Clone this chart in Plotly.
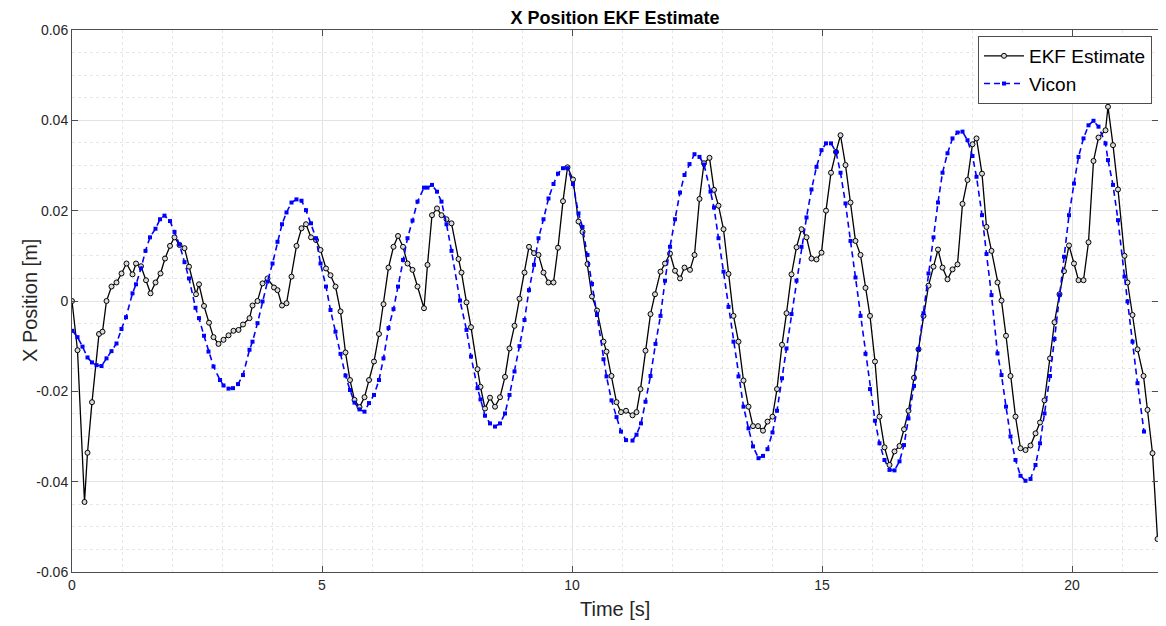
import plotly.graph_objects as go

# EKF estimate samples (time [s], x position [m])
ekf_t = [0.00, 0.11, 0.25, 0.31, 0.40, 0.54, 0.61, 0.69, 0.79, 0.89, 0.99, 1.09, 1.21, 1.28, 1.38,
         1.48, 1.57, 1.67, 1.77, 1.86, 1.96, 2.05, 2.15, 2.25, 2.34, 2.48, 2.54, 2.64, 2.74, 2.83,
         2.93, 3.03, 3.13, 3.23, 3.33, 3.42, 3.55, 3.61, 3.71, 3.81, 3.91, 4.04, 4.11, 4.20, 4.29,
         4.39, 4.49, 4.59, 4.68, 4.78, 4.88, 4.97, 5.08, 5.17, 5.27, 5.37, 5.47, 5.56, 5.65, 5.75,
         5.85, 5.94, 6.04, 6.14, 6.23, 6.33, 6.43, 6.52, 6.62, 6.71, 6.81, 6.91, 7.04, 7.11, 7.20,
         7.30, 7.39, 7.49, 7.59, 7.73, 7.79, 7.89, 7.98, 8.11, 8.17, 8.26, 8.36, 8.46, 8.56, 8.66,
         8.75, 8.85, 8.95, 9.05, 9.14, 9.24, 9.33, 9.43, 9.53, 9.63, 9.72, 9.82, 9.91, 10.02, 10.13,
         10.21, 10.31, 10.40, 10.50, 10.63, 10.69, 10.79, 10.89, 10.98, 11.08, 11.21, 11.29, 11.37,
         11.47, 11.57, 11.66, 11.77, 11.86, 11.96, 12.06, 12.16, 12.25, 12.36, 12.45, 12.55, 12.64,
         12.75, 12.84, 12.93, 13.03, 13.13, 13.23, 13.33, 13.43, 13.53, 13.62, 13.72, 13.82, 13.91,
         14.01, 14.10, 14.20, 14.29, 14.39, 14.49, 14.59, 14.69, 14.79, 14.89, 14.99, 15.08, 15.18,
         15.28, 15.37, 15.47, 15.57, 15.67, 15.77, 15.87, 15.96, 16.06, 16.15, 16.25, 16.35, 16.45,
         16.55, 16.64, 16.73, 16.84, 16.93, 17.03, 17.13, 17.23, 17.32, 17.41, 17.51, 17.61, 17.71,
         17.81, 17.91, 18.01, 18.09, 18.20, 18.29, 18.39, 18.51, 18.59, 18.68, 18.77, 18.87, 18.97,
         19.07, 19.17, 19.27, 19.36, 19.45, 19.56, 19.65, 19.75, 19.84, 19.94, 20.04, 20.13, 20.23,
         20.33, 20.43, 20.53, 20.67, 20.72, 20.82, 20.92, 21.05, 21.11, 21.21, 21.31, 21.43, 21.51,
         21.61, 21.71]
ekf_x = [0.0, -0.0109, -0.0445, -0.0336, -0.0224, -0.0073, -0.0068, 0.0, 0.0032, 0.0041, 0.0061,
         0.0083, 0.0059, 0.0083, 0.0077, 0.0046, 0.0017, 0.0041, 0.0061, 0.0094, 0.0122, 0.0141,
         0.0124, 0.0117, 0.0076, 0.0015, 0.0037, -0.0011, -0.0048, -0.0080, -0.0095, -0.0086,
         -0.0076, -0.0066, -0.0064, -0.0052, -0.0038, -0.0010, 0.0, 0.0039, 0.0050, 0.0030, 0.0024,
         -0.0010, -0.0005, 0.0054, 0.0122, 0.0161, 0.0170, 0.0141, 0.0135, 0.0113, 0.0072, 0.0057,
         0.0032, -0.0023, -0.0114, -0.0175, -0.0219, -0.0235, -0.0213, -0.0175, -0.0134, -0.0073,
         -0.0007, 0.0074, 0.0120, 0.0144, 0.0120, 0.0083, 0.0069, 0.0032, -0.0016, 0.0080, 0.0190,
         0.0205, 0.0190, 0.0181, 0.0172, 0.0093, 0.0063, -0.0003, -0.0058, -0.0151, -0.0190,
         -0.0238, -0.0214, -0.0234, -0.0213, -0.0168, -0.0105, -0.0055, 0.0005, 0.0063, 0.0120,
         0.0106, 0.0102, 0.0063, 0.0041, 0.0041, 0.0118, 0.0221, 0.0296, 0.0269, 0.0176, 0.0153,
         0.0082, 0.0010, -0.0021, -0.0090, -0.0112, -0.0166, -0.0224, -0.0246, -0.0243, -0.0253,
         -0.0246, -0.0195, -0.0110, -0.0029, 0.0015, 0.0065, 0.0083, 0.0105, 0.0067, 0.0050, 0.0074,
         0.0069, 0.0102, 0.0226, 0.0305, 0.0317, 0.0246, 0.0211, 0.0159, 0.0060, -0.0033, -0.0090,
         -0.0176, -0.0234, -0.0277, -0.0277, -0.0287, -0.0267, -0.0256, -0.0195, -0.0097, -0.0027,
         0.0059, 0.0119, 0.0159, 0.0141, 0.0094, 0.0092, 0.0107, 0.0200, 0.0284, 0.0330, 0.0367,
         0.0301, 0.0218, 0.0133, 0.0102, 0.0029, -0.0033, -0.0134, -0.0256, -0.0324, -0.0363,
         -0.0333, -0.0321, -0.0284, -0.0243, -0.0170, -0.0107, -0.0033, 0.0034, 0.0076, 0.0114,
         0.0074, 0.0048, 0.0070, 0.0081, 0.0215, 0.0268, 0.0347, 0.0360, 0.0282, 0.0164, 0.0111,
         0.0041, 0.0001, -0.0077, -0.0166, -0.0256, -0.0326, -0.0330, -0.0320, -0.0293, -0.0269,
         -0.0220, -0.0127, -0.0047, 0.0015, 0.0066, 0.0123, 0.0083, 0.0046, 0.0046, 0.0130, 0.0310,
         0.0362, 0.0378, 0.0430, 0.0345, 0.0247, 0.0100, 0.0041, -0.0031, -0.0107, -0.0166,
         -0.0241, -0.0337, -0.0527]

# Vicon ground truth samples
vicon_t = [0.01, 0.11, 0.21, 0.31, 0.40, 0.49, 0.59, 0.69, 0.79, 0.89, 0.99, 1.08, 1.21, 1.28, 1.38,
           1.47, 1.56, 1.67, 1.76, 1.85, 1.96, 2.05, 2.15, 2.25, 2.34, 2.47, 2.54, 2.64, 2.73, 2.83,
           2.96, 3.03, 3.13, 3.22, 3.32, 3.42, 3.55, 3.61, 3.71, 3.81, 3.91, 4.01, 4.11, 4.20, 4.29,
           4.39, 4.49, 4.59, 4.68, 4.78, 4.88, 4.97, 5.08, 5.17, 5.27, 5.37, 5.47, 5.56, 5.65, 5.75,
           5.85, 5.94, 6.04, 6.14, 6.23, 6.33, 6.43, 6.52, 6.62, 6.71, 6.81, 6.91, 7.04, 7.11, 7.20,
           7.30, 7.39, 7.49, 7.59, 7.76, 7.89, 7.98, 8.11, 8.17, 8.26, 8.36, 8.46, 8.56, 8.66, 8.75,
           8.85, 8.95, 9.05, 9.14, 9.24, 9.33, 9.43, 9.53, 9.63, 9.72, 9.82, 9.91, 10.02, 10.13,
           10.21, 10.31, 10.40, 10.50, 10.63, 10.69, 10.79, 10.89, 10.98, 11.08, 11.21, 11.29, 11.38,
           11.47, 11.57, 11.67, 11.77, 11.86, 11.96, 12.06, 12.16, 12.25, 12.35, 12.45, 12.55, 12.64,
           12.77, 12.84, 12.93, 13.03, 13.13, 13.23, 13.33, 13.43, 13.53, 13.62, 13.73, 13.82, 13.91,
           14.01, 14.10, 14.20, 14.29, 14.39, 14.49, 14.59, 14.69, 14.79, 14.89, 14.99, 15.08, 15.18,
           15.28, 15.37, 15.47, 15.57, 15.67, 15.77, 15.87, 15.96, 16.06, 16.15, 16.25, 16.35, 16.45,
           16.55, 16.64, 16.73, 16.84, 16.93, 17.03, 17.13, 17.23, 17.32, 17.41, 17.51, 17.61, 17.71,
           17.81, 17.91, 18.01, 18.09, 18.20, 18.29, 18.39, 18.51, 18.59, 18.68, 18.77, 18.87, 18.97,
           19.07, 19.17, 19.27, 19.36, 19.45, 19.56, 19.65, 19.75, 19.84, 19.94, 20.04, 20.13, 20.23,
           20.33, 20.43, 20.53, 20.67, 20.72, 20.82, 20.92, 21.05, 21.11, 21.21, 21.31, 21.44]
vicon_x = [-0.0066, -0.0080, -0.0101, -0.0125, -0.0136, -0.0142, -0.0144, -0.0127, -0.0111, -0.0094,
           -0.0062, -0.0036, 0.0017, 0.0037, 0.0072, 0.0111, 0.0141, 0.0160, 0.0181, 0.0189, 0.0177,
           0.0153, 0.0125, 0.0086, 0.0050, -0.0015, -0.0038, -0.0077, -0.0112, -0.0145, -0.0175,
           -0.0187, -0.0194, -0.0193, -0.0184, -0.0164, -0.0108, -0.0090, -0.0049, -0.0001, 0.0043,
           0.0083, 0.0131, 0.0170, 0.0196, 0.0218, 0.0225, 0.0222, 0.0201, 0.0172, 0.0139, 0.0083,
           0.0032, -0.0020, -0.0068, -0.0117, -0.0165, -0.0197, -0.0225, -0.0240, -0.0245, -0.0226,
           -0.0208, -0.0175, -0.0127, -0.0060, -0.0018, 0.0032, 0.0091, 0.0139, 0.0178, 0.0220,
           0.0251, 0.0251, 0.0257, 0.0242, 0.0220, 0.0170, 0.0111, 0.0001, -0.0064, -0.0123, -0.0193,
           -0.0218, -0.0254, -0.0271, -0.0278, -0.0271, -0.0249, -0.0208, -0.0156, -0.0100, -0.0042,
           0.0024, 0.0080, 0.0139, 0.0181, 0.0227, 0.0259, 0.0282, 0.0294, 0.0294, 0.0259, 0.0194,
           0.0164, 0.0102, 0.0038, -0.0031, -0.0129, -0.0167, -0.0220, -0.0257, -0.0289, -0.0308,
           -0.0309, -0.0296, -0.0271, -0.0223, -0.0166, -0.0095, -0.0033, 0.0045, 0.0120, 0.0181,
           0.0240, 0.0279, 0.0303, 0.0325, 0.0319, 0.0302, 0.0242, 0.0207, 0.0139, 0.0065, -0.0013,
           -0.0090, -0.0167, -0.0234, -0.0282, -0.0322, -0.0348, -0.0343, -0.0328, -0.0291, -0.0243,
           -0.0171, -0.0105, -0.0029, 0.0045, 0.0120, 0.0185, 0.0247, 0.0297, 0.0334, 0.0349, 0.0349,
           0.0330, 0.0284, 0.0216, 0.0133, 0.0052, -0.0033, -0.0117, -0.0195, -0.0265, -0.0315,
           -0.0352, -0.0374, -0.0375, -0.0355, -0.0319, -0.0260, -0.0188, -0.0107, -0.0027, 0.0061,
           0.0141, 0.0218, 0.0284, 0.0327, 0.0360, 0.0373, 0.0375, 0.0356, 0.0321, 0.0275, 0.0190,
           0.0104, 0.0013, -0.0116, -0.0164, -0.0234, -0.0300, -0.0352, -0.0387, -0.0398, -0.0394,
           -0.0363, -0.0315, -0.0249, -0.0166, -0.0084, 0.0013, 0.0098, 0.0190, 0.0260, 0.0319,
           0.0360, 0.0389, 0.0399, 0.0386, 0.0349, 0.0312, 0.0257, 0.0179, 0.0054, -0.0001, -0.0090,
           -0.0182, -0.0289]

x_ticks = [0, 5, 10, 15, 20]
y_ticks = [-0.06, -0.04, -0.02, 0, 0.02, 0.04, 0.06]
y_labels = ["-0.06", "-0.04", "-0.02", "0", "0.02", "0.04", "0.06"]

FONT = "Liberation Sans, Arial"

fig = go.Figure()
fig.add_trace(go.Scatter(
    x=ekf_t, y=ekf_x, mode="lines+markers", name="EKF Estimate",
    line=dict(color="black", width=1.3),
    marker=dict(symbol="circle", size=5, color="#d9d9d9", line=dict(color="black", width=1)),
))
fig.add_trace(go.Scatter(
    x=vicon_t, y=vicon_x, mode="lines+markers", name="Vicon",
    line=dict(color="#0000ff", width=1.6, dash="6px,4px"),
    marker=dict(symbol="square", size=4, color="#0000ff"),
))

axis_common = dict(
    showline=True, linecolor="#4d4d4d", linewidth=1, mirror="ticks",
    ticks="inside", ticklen=6, tickcolor="#4d4d4d",
    showgrid=True, gridcolor="#e3e3e3", gridwidth=1, zeroline=False,
    tickfont=dict(family=FONT, size=14, color="#262626"),
    automargin=False,
)

fig.update_xaxes(
    range=[0, 21.72], tickvals=x_ticks, ticktext=[str(v) for v in x_ticks],
    minor=dict(dtick=1, showgrid=True, gridcolor="#e6e6e6", griddash="dot", ticks=""),
    **axis_common,
)
fig.update_yaxes(
    range=[-0.06, 0.06], tickvals=y_ticks, ticktext=y_labels,
    minor=dict(dtick=0.005, tick0=0, showgrid=True, gridcolor="#e6e6e6", griddash="dot", ticks=""),
    **axis_common,
)

# axis titles placed as annotations (MATLAB-like positions)
fig.add_annotation(text="Time [s]", xref="paper", yref="paper", x=0.5, y=-37 / 542,
                   xanchor="center", yanchor="middle", showarrow=False,
                   font=dict(family=FONT, size=20, color="#262626"))
fig.add_annotation(text="X Position [m]", xref="paper", yref="paper", x=-42 / 1086, y=0.5,
                   xanchor="center", yanchor="middle", textangle=-90, showarrow=False,
                   font=dict(family=FONT, size=20, color="#262626"))

# page body has an 8px margin, so the figure is drawn 8px smaller and shifted margins
fig.update_layout(
    width=1158, height=618,
    margin=dict(l=64, r=8, t=22, b=54),
    paper_bgcolor="white", plot_bgcolor="white",
    title=dict(text="<b>X Position EKF Estimate</b>", x=(64 + 543) / 1158, xanchor="center",
               y=1 - 9.5 / 618, yanchor="middle",
               font=dict(family=FONT, size=18, color="black")),
    legend=dict(x=0.9945, y=0.989, xanchor="right", yanchor="top",
                bgcolor="white", bordercolor="#4d4d4d", borderwidth=1,
                font=dict(family=FONT, size=19, color="black"),
                tracegroupgap=0, itemwidth=40),
    showlegend=True,
)

fig.write_html("out.html")
